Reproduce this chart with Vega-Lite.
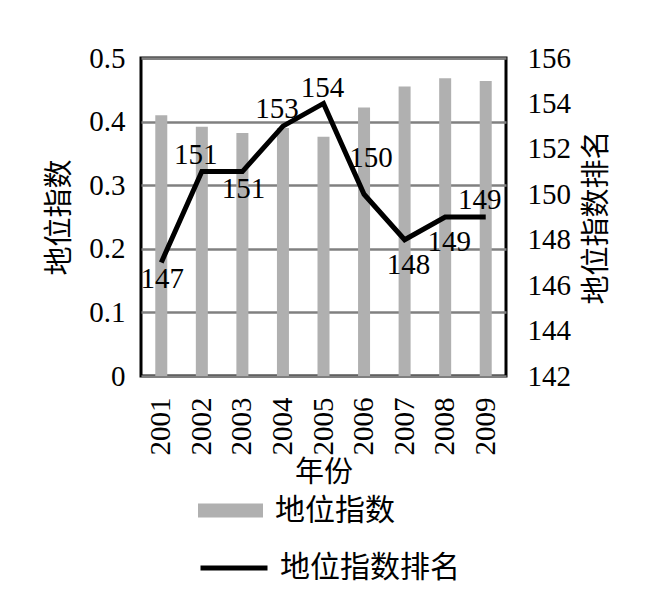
{
  "$schema": "https://vega.github.io/schema/vega-lite/v6.json",
  "autosize": {"type": "none"},
  "padding": {"left": 141, "top": 58, "right": 156, "bottom": 216},
  "width": 365,
  "height": 318,
  "background": "white",
  "config": {
    "view": {"stroke": "black", "strokeWidth": 3},
    "axis": {
      "domain": false,
      "ticks": false,
      "labelFont": "Liberation Serif",
      "labelFontSize": 29,
      "labelColor": "black",
      "titleFont": "Noto Sans CJK SC",
      "titleFontSize": 29,
      "titleFontWeight": "normal",
      "titleColor": "black"
    }
  },
  "data": {
    "values": [
      {"year": "2001", "index": 0.41, "rank": 147},
      {"year": "2002", "index": 0.392, "rank": 151},
      {"year": "2003", "index": 0.382, "rank": 151},
      {"year": "2004", "index": 0.39, "rank": 153},
      {"year": "2005", "index": 0.376, "rank": 154},
      {"year": "2006", "index": 0.422, "rank": 150},
      {"year": "2007", "index": 0.455, "rank": 148},
      {"year": "2008", "index": 0.468, "rank": 149},
      {"year": "2009", "index": 0.464, "rank": 149}
    ]
  },
  "layer": [
    {
      "mark": {"type": "bar", "size": 12},
      "encoding": {
        "x": {
          "field": "year",
          "type": "ordinal",
          "scale": {"paddingInner": 0, "paddingOuter": 0},
          "axis": {"title": "年份", "labelAngle": -90, "labelPadding": 21, "titlePadding": 3}
        },
        "y": {
          "field": "index",
          "type": "quantitative",
          "scale": {"domain": [0, 0.5]},
          "axis": {
            "title": "地位指数",
            "values": [0, 0.1, 0.2, 0.3, 0.4, 0.5],
            "format": "~g",
            "grid": true,
            "gridColor": "#808080",
            "gridWidth": 2.5,
            "gridOpacity": 1,
            "labelPadding": 16,
            "titlePadding": 14
          }
        },
        "fill": {
          "datum": "地位指数",
          "scale": {"range": ["#b0b0b0"]},
          "legend": {
            "title": null,
            "orient": "none",
            "legendX": 57,
            "legendY": 420,
            "padding": 0,
            "symbolType": "M-1,-0.215H1V0.215H-1Z",
            "symbolSize": 4225,
            "symbolStrokeWidth": 0,
            "labelFont": "Noto Sans CJK SC",
            "labelFontSize": 30,
            "labelColor": "black",
            "labelOffset": 12,
            "labelLimit": 400
          }
        }
      }
    },
    {
      "encoding": {
        "x": {"field": "year", "type": "ordinal"},
        "y": {
          "field": "rank",
          "type": "quantitative",
          "scale": {"domain": [142, 156]},
          "axis": {
            "orient": "right",
            "title": "地位指数排名",
            "values": [142, 144, 146, 148, 150, 152, 154, 156],
            "grid": false,
            "labelPadding": 21,
            "titlePadding": 12,
            "titleAngle": 270,
            "titleBaseline": "top"
          }
        }
      },
      "layer": [
        {
          "mark": {"type": "line", "strokeWidth": 5},
          "encoding": {
            "stroke": {
              "datum": "地位指数排名",
              "scale": {"range": ["black"]},
              "legend": {
                "title": null,
                "orient": "none",
                "legendX": 57,
                "legendY": 474,
                "padding": 0,
                "symbolType": "stroke",
                "symbolSize": 4489,
                "symbolStrokeWidth": 5,
                "labelFont": "Noto Sans CJK SC",
                "labelFontSize": 30,
                "labelColor": "black",
                "labelOffset": 10,
                "labelLimit": 400
              }
            }
          }
        },
        {
          "transform": [{"filter": {"field": "year", "oneOf": ["2001", "2003"]}}],
          "mark": {"type": "text", "font": "Liberation Serif", "fontSize": 29, "color": "black", "baseline": "alphabetic", "dx": 1, "dy": 26},
          "encoding": {"text": {"field": "rank"}}
        },
        {
          "transform": [{"filter": {"field": "year", "oneOf": ["2007", "2008"]}}],
          "mark": {"type": "text", "font": "Liberation Serif", "fontSize": 29, "color": "black", "baseline": "alphabetic", "dx": 4, "dy": 34},
          "encoding": {"text": {"field": "rank"}}
        },
        {
          "transform": [{"filter": {"field": "year", "oneOf": ["2002", "2004", "2009"]}}],
          "mark": {"type": "text", "font": "Liberation Serif", "fontSize": 29, "color": "black", "baseline": "alphabetic", "dx": -6, "dy": -8},
          "encoding": {"text": {"field": "rank"}}
        },
        {
          "transform": [{"filter": {"field": "year", "oneOf": ["2005"]}}],
          "mark": {"type": "text", "font": "Liberation Serif", "fontSize": 29, "color": "black", "baseline": "alphabetic", "dx": -1, "dy": -6},
          "encoding": {"text": {"field": "rank"}}
        },
        {
          "transform": [{"filter": {"field": "year", "oneOf": ["2006"]}}],
          "mark": {"type": "text", "font": "Liberation Serif", "fontSize": 29, "color": "black", "baseline": "alphabetic", "dx": 7, "dy": -27},
          "encoding": {"text": {"field": "rank"}}
        }
      ]
    }
  ],
  "resolve": {"scale": {"y": "independent"}}
}
